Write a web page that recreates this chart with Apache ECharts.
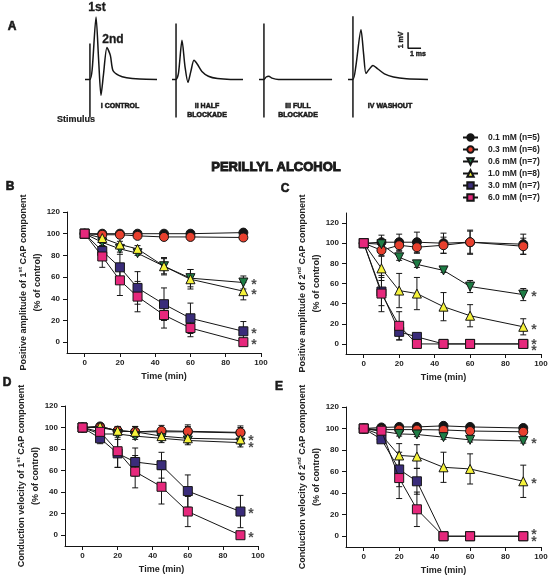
<!DOCTYPE html>
<html>
<head>
<meta charset="utf-8">
<script src="https://cdn.jsdelivr.net/npm/echarts@6/dist/echarts.min.js"></script>
<style>
  html, body { margin: 0; padding: 0; background: #fff; }
  #chart { width: 550px; height: 579px; }
</style>
</head>
<body>
<div id="chart"></div>
<script>
(() => {
  // sample times (min) and legend entries
  const times = [0, 10, 20, 30, 45, 60, 90];
  const doses = ["0.1 mM (n=5)", "0.3 mM (n=6)", "0.6 mM (n=7)", "1.0 mM (n=8)", "3.0 mM (n=7)", "6.0 mM (n=7)"];
  const xTicks = [0, 20, 40, 60, 80, 100];
  const yTicks = [0, 20, 40, 60, 80, 100, 120];
  const starTime = 96;

  // B: positive amplitude of 1st CAP component (% of control)
  const ampFirstMean = [
    [100, 100, 100, 100, 100, 100, 101],
    [100, 99, 99, 98, 97, 97, 96.5],
    [100, 92, 86, 82, 70, 59, 55],
    [100, 96, 90, 86, 70, 58, 47],
    [100, 84, 69, 50, 35, 22, 10],
    [100, 79, 57, 42, 25, 13, 0]
  ];
  const ampFirstErr = [
    [0, 1, 1, 1, 1, 1, 1],
    [0, 1, 1, 1, 1, 1, 1],
    [0, 3, 3, 2, 7, 8, 6],
    [0, 2, 3, 3, 8, 9, 8],
    [0, 7, 12, 15, 15, 14, 9],
    [0, 10, 14, 14, 12, 8, 1]
  ];
  const ampFirstStars = [55, 46, 10, 0];

  // C: positive amplitude of 2nd CAP component
  const ampSecondMean = [
    [100, 101, 101, 101, 100, 101, 99],
    [100, 93, 98, 96, 98, 101, 97],
    [100, 99, 86, 79, 73, 57, 49],
    [100, 75, 53, 50, 37, 28, 17],
    [100, 52, 12, 7, 0, 0, 0],
    [100, 50, 18, 0, 0, 0, 0]
  ];
  const ampSecondErr = [
    [0, 7, 8, 10, 10, 12, 10],
    [0, 5, 6, 6, 8, 11, 8],
    [0, 3, 3, 3, 2, 6, 6],
    [0, 12, 17, 16, 14, 11, 8],
    [0, 14, 8, 3, 0, 0, 0],
    [0, 18, 14, 0, 0, 0, 0]
  ];
  const ampSecondStars = [49, 17, 2, -4];

  // D: conduction velocity of 1st CAP component
  const velFirstMean = [
    [100, 101, 97, 96, 96, 96, 95],
    [100, 100, 97, 96, 97, 96.5, 95.5],
    [100, 94, 94, 92, 90, 88, 86],
    [100, 101, 97, 96, 92, 90, 89],
    [100, 90, 76, 68, 65, 41, 22],
    [100, 96, 78, 59, 45, 22, 0]
  ];
  const velFirstErr = [
    [0, 2, 4, 5, 4, 5, 5],
    [0, 2, 4, 5, 5, 6, 6],
    [0, 3, 3, 3, 4, 4, 4],
    [0, 2, 3, 3, 4, 4, 4],
    [0, 5, 13, 13, 12, 15, 15],
    [0, 6, 15, 15, 16, 14, 1]
  ];
  const velFirstStars = [90, 84, 22, 0];

  // E: conduction velocity of 2nd CAP component
  const velSecondMean = [
    [100, 101, 101.5, 101.5, 102.5, 101.5, 100.5],
    [100, 99, 99, 99, 98.7, 97.7, 97],
    [100, 97.5, 95, 94.5, 92, 89.5, 88.5],
    [100, 94, 75, 74, 64, 62.5, 51],
    [100, 90, 62, 51, 0, 0, 0],
    [100, 98, 54, 25, 0, 0, 0]
  ];
  const velSecondErr = [
    [0, 1, 1, 1, 1, 1, 1],
    [0, 1, 1, 1, 1, 1, 1],
    [0, 2, 2, 2, 2, 2, 2],
    [0, 3, 11, 11, 14, 14, 15],
    [0, 3, 16, 12, 0, 0, 0],
    [0, 2, 19, 16, 0, 0, 0]
  ];
  const velSecondStars = [88, 51, 4, -3];

  // A: example CAP traces, [time (ms), voltage (mV)]
  const traceControl = [[0, 0], [0.38, 0], [0.55, 0.6], [0.85, 3.9], [1.05, 1.2], [1.23, -1.0], [1.42, 0.3], [1.69, 2.0], [1.95, 1.5], [2.15, 0.56], [2.6, 0.25], [3.2, 0.1], [4.2, 0.02], [5.54, 0]];
  const traceHalf = [[0, 0], [0.31, 0], [0.5, 0.4], [0.77, 2.44], [1.0, 0.8], [1.23, -0.19], [1.45, 0.5], [1.69, 1.19], [1.95, 0.95], [2.3, 0.5], [2.8, 0.2], [3.5, 0.05], [4.5, 0], [5.46, 0]];
  const traceFull = [[0, 0], [0.38, 0], [0.55, 0.15], [0.75, 0.2], [1.0, 0.08], [1.5, 0], [5.62, 0]];
  const traceWashout = [[0, 0], [0.38, 0], [0.6, 0.8], [1.0, 3.1], [1.2, 1.6], [1.38, 0.37], [1.6, 0.6], [1.92, 0.87], [2.3, 0.65], [2.8, 0.35], [3.5, 0.15], [4.5, 0.04], [6.15, 0]];
  const stimControl = [[0.38, 2.25], [0.38, -2.375]];
  const stimHalf = [[0.31, 3.5], [0.31, -2.375]];
  const stimFull = [[0.38, 3.5], [0.38, -2.375]];
  const stimWashout = [[0.38, 3.94], [0.38, -2.375]];
  const scaleBar = [[4.62, 2.94], [4.62, 1.94], [5.62, 1.94]];

  const font = "'Liberation Sans', Arial, sans-serif";
  const ink = "#151515";
  const doseColors = ["#151515", "#e8402e", "#1e7d45", "#f5f23a", "#3a2c7a", "#e6287c"];
  const doseSymbols = ["circle", "circle", "triangle", "triangle", "rect", "rect"];
  const doseRotate = [0, 0, 180, 0, 0, 0];

  const panels = [
    { mean: ampFirstMean, err: ampFirstErr, stars: ampFirstStars, title: "Positive amplitude of 1", sup: "st", yMax: 120, rect: { left: 67, top: 212, width: 194, height: 141 } },
    { mean: ampSecondMean, err: ampSecondErr, stars: ampSecondStars, title: "Positive amplitude of 2", sup: "nd", yMax: 130, rect: { left: 346, top: 213, width: 195, height: 141 } },
    { mean: velFirstMean, err: velFirstErr, stars: velFirstStars, title: "Conduction velocity of 1", sup: "st", yMax: 120, rect: { left: 65, top: 406, width: 193, height: 140 } },
    { mean: velSecondMean, err: velSecondErr, stars: velSecondStars, title: "Conduction velocity of 2", sup: "nd", yMax: 120, rect: { left: 346, top: 407, width: 195, height: 140 } }
  ];

  const traces = [traceControl, traceHalf, traceFull, traceWashout];
  const stimuli = [stimControl, stimHalf, stimFull, stimWashout];
  const traceLefts = [85, 172, 259, 348];

  const grids = [];
  const xAxes = [];
  const yAxes = [];
  const series = [];

  panels.forEach((p, gi) => {
    grids.push(Object.assign({ outerBoundsMode: "none", containLabel: false }, p.rect));
    xAxes.push({
      gridIndex: gi,
      type: "value",
      min: -10,
      max: 100,
      axisLine: { show: true, onZero: false, lineStyle: { color: ink, width: 1 } },
      axisTick: { show: true, customValues: xTicks, length: 4, lineStyle: { color: ink } },
      axisLabel: { customValues: xTicks, fontSize: 8, fontWeight: "bold", color: "#222", fontFamily: font, margin: 6 },
      splitLine: { show: false },
      name: "Time (min)",
      nameLocation: "middle",
      nameGap: 19,
      nameTextStyle: { fontSize: 9, fontWeight: "bold", color: "#222", fontFamily: font }
    });
    yAxes.push({
      gridIndex: gi,
      type: "value",
      min: -10,
      max: p.yMax,
      axisLine: { show: true, onZero: false, lineStyle: { color: ink, width: 1 } },
      axisTick: { show: true, customValues: yTicks, length: 4, lineStyle: { color: ink } },
      axisLabel: { customValues: yTicks, fontSize: 8, fontWeight: "bold", color: "#222", fontFamily: font, margin: 7 },
      splitLine: { show: false },
      name: `{t|${p.title}}{s|${p.sup}}{t| CAP component}\n{t|(% of control)}`,
      nameLocation: "middle",
      nameGap: 22,
      nameTextStyle: {
        color: "#222",
        fontFamily: font,
        rich: {
          t: { fontSize: 9, fontWeight: "bold", fontFamily: font, color: "#222", lineHeight: 14 },
          s: { fontSize: 6, fontWeight: "bold", fontFamily: font, color: "#222", lineHeight: 14, verticalAlign: "top" }
        }
      }
    });

    const errData = [];
    p.mean.forEach((vals, d) => {
      vals.forEach((v, i) => {
        if (p.err[d][i] > 0) errData.push([times[i], v, p.err[d][i]]);
      });
    });
    series.push({
      type: "custom",
      xAxisIndex: gi,
      yAxisIndex: gi,
      z: 1,
      silent: true,
      data: errData,
      renderItem: (params, api) => {
        const x = api.value(0);
        const y = api.value(1);
        const e = api.value(2);
        const hi = api.coord([x, y + e]);
        const lo = api.coord([x, y - e]);
        const hw = 3;
        const st = { stroke: ink, lineWidth: 1 };
        return {
          type: "group",
          children: [
            { type: "line", shape: { x1: hi[0], y1: hi[1], x2: lo[0], y2: lo[1] }, style: st },
            { type: "line", shape: { x1: hi[0] - hw, y1: hi[1], x2: hi[0] + hw, y2: hi[1] }, style: st },
            { type: "line", shape: { x1: lo[0] - hw, y1: lo[1], x2: lo[0] + hw, y2: lo[1] }, style: st }
          ]
        };
      }
    });

    p.mean.forEach((vals, d) => {
      series.push({
        name: doses[d],
        type: "line",
        xAxisIndex: gi,
        yAxisIndex: gi,
        z: 3 + d,
        data: vals.map((v, i) => [times[i], v]),
        symbol: doseSymbols[d],
        symbolRotate: doseRotate[d],
        symbolSize: 9,
        showAllSymbol: true,
        lineStyle: { color: ink, width: 1 },
        itemStyle: { color: doseColors[d], borderColor: ink, borderWidth: 1 }
      });
    });

    series.push({
      type: "scatter",
      xAxisIndex: gi,
      yAxisIndex: gi,
      z: 10,
      silent: true,
      symbolSize: 1,
      itemStyle: { color: "rgba(0,0,0,0)" },
      data: p.stars.map((s) => [starTime, s]),
      label: { show: true, formatter: "*", position: "inside", fontSize: 14, fontWeight: "bold", color: "#222", fontFamily: font, offset: [0, 3] }
    });
  });

  traces.forEach((tr, k) => {
    const gi = grids.length;
    grids.push({ left: traceLefts[k], top: 9, width: 84.5, height: 112, outerBoundsMode: "none", containLabel: false });
    xAxes.push({ gridIndex: gi, type: "value", min: 0, max: 6.5, show: false });
    yAxes.push({ gridIndex: gi, type: "value", min: -2.6, max: 4.4, show: false });
    series.push({
      type: "line",
      xAxisIndex: gi,
      yAxisIndex: gi,
      data: tr,
      showSymbol: false,
      smooth: 0.25,
      silent: true,
      lineStyle: { color: ink, width: 1.5 }
    });
    series.push({
      type: "line",
      xAxisIndex: gi,
      yAxisIndex: gi,
      data: stimuli[k],
      showSymbol: false,
      silent: true,
      lineStyle: { color: ink, width: 1.5 }
    });
    if (k === 3) {
      series.push({
        type: "line",
        xAxisIndex: gi,
        yAxisIndex: gi,
        data: scaleBar,
        showSymbol: false,
        silent: true,
        lineStyle: { color: ink, width: 1.5 }
      });
    }
  });

  // heavy labels: bold face plus a thin outline, like the original figure lettering
  const txt = (x, y, text, size, outline) => ({
    type: "text",
    x,
    y,
    style: {
      text,
      font: `bold ${size}px ${font}`,
      fill: "#1a1a1a",
      stroke: "#1a1a1a",
      lineWidth: outline,
      align: "center",
      verticalAlign: "middle"
    }
  });

  const graphic = [
    txt(12, 27, "A", 12, 0.6),
    txt(97, 8, "1st", 12, 0.3),
    txt(113, 40, "2nd", 12, 0.3),
    txt(76, 120, "Stimulus", 9, 0.2),
    txt(120, 106, "I CONTROL", 7, 0.5),
    txt(207, 106, "II HALF", 7, 0.5),
    txt(207, 115, "BLOCKADE", 7, 0.5),
    txt(298, 106, "III FULL", 7, 0.5),
    txt(298, 115, "BLOCKADE", 7, 0.5),
    txt(390, 106, "IV WASHOUT", 7, 0.5),
    txt(418, 54, "1 ms", 7, 0.4),
    Object.assign(txt(401, 40, "1 mV", 7, 0.4), { rotation: Math.PI / 2 }),
    txt(276, 167, "PERILLYL ALCOHOL", 13, 0.9),
    txt(10, 187, "B", 12, 0.6),
    txt(285, 189, "C", 12, 0.6),
    txt(7, 383, "D", 12, 0.6),
    txt(279, 387, "E", 12, 0.6)
  ];

  const chart = echarts.init(document.getElementById("chart"), null, { renderer: "canvas" });
  chart.setOption({
    animation: false,
    backgroundColor: "#fff",
    textStyle: { fontFamily: font },
    grid: grids,
    xAxis: xAxes,
    yAxis: yAxes,
    legend: {
      data: doses,
      orient: "vertical",
      left: 457,
      top: 128,
      itemWidth: 15,
      itemHeight: 8,
      itemGap: 3,
      selectedMode: false,
      textStyle: { fontSize: 8.5, fontWeight: "bold", color: "#222", fontFamily: font, padding: [0, 0, 0, 5] }
    },
    graphic,
    series
  });
})();
</script>
</body>
</html>
